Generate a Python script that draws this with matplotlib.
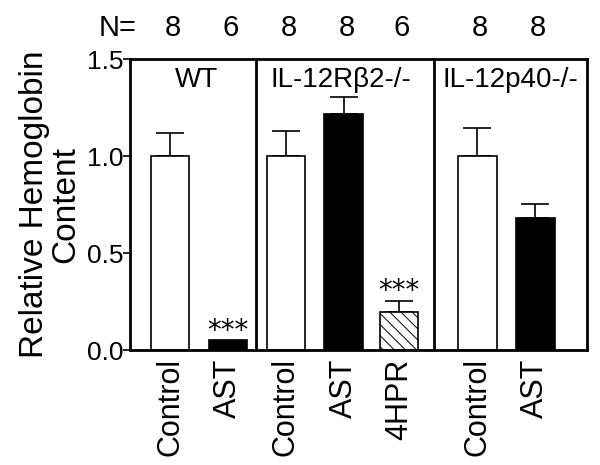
import matplotlib
matplotlib.use("Agg")
import matplotlib.pyplot as plt

plt.rcParams['font.family'] = ['Liberation Sans', 'DejaVu Sans']
plt.rcParams['hatch.linewidth'] = 0.7

### data
labels = ["Control", "AST", "Control", "AST", "4HPR", "Control", "AST"]
values = [1.00, 0.05, 1.00, 1.215, 0.197, 1.00, 0.68]
errors = [0.12, 0.0, 0.13, 0.09, 0.057, 0.146, 0.073]
n_counts = [8, 6, 8, 8, 6, 8, 8]
fills = ["white", "black", "white", "black", "white", "white", "black"]
hatches = ["", "", "", "", "\\\\\\", "", ""]
stars = ["", "***", "", "", "***", "", ""]
groups = ["WT", "IL-12R\u03b22-/-", "IL-12p40-/-"]

# bar positions (groups separated by divider lines)
xpos = [0, 1, 2, 3, 3.95, 5.3, 6.3]
dividers = [1.48, 4.55]
group_x = [0.45, 2.95, 5.87]

fig = plt.figure(figsize=(6, 4.65), dpi=100)
ax = fig.add_axes([0.2167, 0.247, 0.7613, 0.626])

ax.bar(xpos, values, width=0.67, color=fills, edgecolor="black",
       linewidth=1.2, hatch=hatches, zorder=2)
for x, v, e in zip(xpos, values, errors):
    if e > 0:
        ax.errorbar(x, v, yerr=[[0], [e]], fmt="none", ecolor="black",
                    elinewidth=1.2, capsize=10, capthick=1.2, zorder=1)

for x, v, e, s in zip(xpos, values, errors, stars):
    if s:
        ax.text(x, v + e - 0.022, s, ha="center", va="bottom", fontsize=20,
                family="DejaVu Sans")

for d in dividers:
    ax.axvline(d, color="black", lw=2)

for gx, g in zip(group_x, groups):
    ax.text(gx, 1.39, g, ha="center", va="center", fontsize=20)

# N= row above the axes
for x, n in zip(xpos, n_counts):
    ax.text(x + 0.05, 1.66, str(n), ha="center", va="center", fontsize=21)
ax.text(-0.91, 1.66, "N=", ha="center", va="center", fontsize=21)

ax.set_xlim(-0.69, 7.19)
ax.set_ylim(0, 1.5)
ax.set_yticks([0.0, 0.5, 1.0, 1.5])
ax.set_yticklabels(["0.0", "0.5", "1.0", "1.5"], fontsize=19)
ax.set_xticks(xpos)
ax.set_xticklabels(labels, rotation=90, fontsize=22)
ax.tick_params(axis="x", length=0, pad=6)
ax.tick_params(axis="y", length=5, width=1.2, pad=0)
for sp in ax.spines.values():
    sp.set_linewidth(2)

ax.set_ylabel("Relative Hemoglobin\nContent", fontsize=24, linespacing=1.0,
              labelpad=4)

fig.savefig("out.png", dpi=100)
